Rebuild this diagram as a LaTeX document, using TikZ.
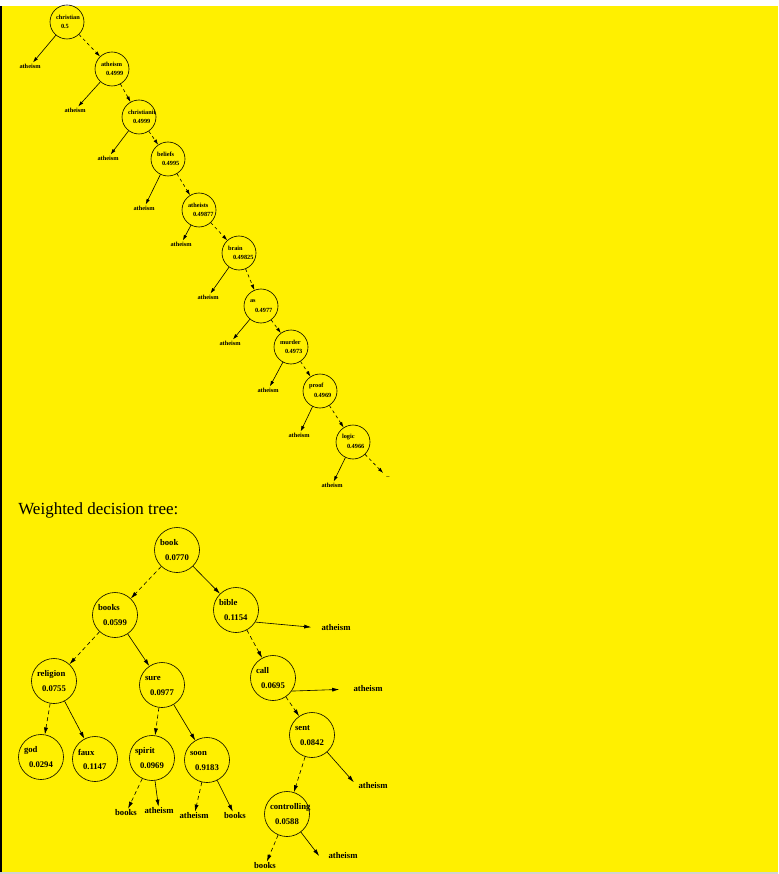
\documentclass[tikz,border=0pt]{standalone}
\usepackage{fontspec}
\setmainfont{Liberation Serif}
\usetikzlibrary{arrows.meta}
\definecolor{bgyellow}{RGB}{255,240,0}

\begin{document}
\begin{tikzpicture}[x=1pt, y=-1pt, line width=0.6pt,
  >={Latex[length=7pt,width=4pt]},
  dashedge/.style={dash pattern=on 4pt off 3pt},
  tword/.style={xshift=-11pt, yshift=5pt, inner sep=0pt, font=\fontsize{6.3}{7}\selectfont\bfseries},
  tval/.style={xshift=-6pt, yshift=-4pt, inner sep=0pt, font=\fontsize{6.3}{7}\selectfont\bfseries},
  tnode/.style 2 args={circle, draw, minimum size=34pt, inner sep=0pt,
    label={[tword]center:\makebox[0pt][l]{#1}}, label={[tval]center:\makebox[0pt][l]{#2}}},
  tleaf/.style={inner sep=1pt, font=\fontsize{6.3}{7}\selectfont\bfseries},
  wword/.style={xshift=-17pt, yshift=7pt, inner sep=0pt, font=\fontsize{8.7}{10}\selectfont\bfseries},
  wval/.style={xshift=-12pt, yshift=-8pt, inner sep=0pt, font=\fontsize{8.7}{10}\selectfont\bfseries},
  wnode/.style 2 args={circle, draw, minimum size=45pt, inner sep=0pt,
    label={[wword]center:\makebox[0pt][l]{#1}}, label={[wval]center:\makebox[0pt][l]{#2}}},
  wleaf/.style={inner sep=1pt, font=\fontsize{8.7}{10}\selectfont\bfseries},
  topedge/.style={>={Latex[length=5.5pt,width=3.5pt]}},
  topdash/.style={topedge, dash pattern=on 3pt off 3pt}
]
% page
\useasboundingbox (0,0) rectangle (778,874);
\fill[white] (0,0) rectangle (778,874);
\fill[bgyellow] (0,6) rectangle (778,872);
\fill[black] (0,6) rectangle (1.5,872);
\fill[gray!35] (0,872) rectangle (778,874);

% plain decision tree
\node (c1) [tnode={christian}{0.5}] at (67,22) {};
\node (l1) [tleaf] at (30,66) {atheism};
\node (c2) [tnode={atheism}{0.4999}] at (112,69) {};
\node (l2) [tleaf] at (75,110) {atheism};
\node (c3) [tnode={christianit}{0.4999}] at (139,117) {};
\node (l3) [tleaf] at (108,158) {atheism};
\node (c4) [tnode={beliefs}{0.4995}] at (168,159) {};
\node (l4) [tleaf] at (144,208) {atheism};
\node (c5) [tnode={atheists}{0.49877}] at (199,210) {};
\node (l5) [tleaf] at (181,244) {atheism};
\node (c6) [tnode={brain}{0.49825}] at (239,253) {};
\node (l6) [tleaf] at (208,297) {atheism};
\node (c7) [tnode={as}{0.4977}] at (261,306) {};
\node (l7) [tleaf] at (230,343) {atheism};
\node (c8) [tnode={murder}{0.4973}] at (291,347) {};
\node (l8) [tleaf] at (268,390) {atheism};
\node (c9) [tnode={proof}{0.4969}] at (320,391) {};
\node (l9) [tleaf] at (299,435) {atheism};
\node (c10) [tnode={logic}{0.4966}] at (353,442) {};
\node (l10) [tleaf] at (332,485) {atheism};
\node (more) [tleaf] at (388,478) {--};

\foreach \i in {1,...,10}
  \draw [->, topedge] (c\i) -- (l\i);
\foreach \i/\j in {1/2,2/3,3/4,4/5,5/6,6/7,7/8,8/9,9/10}
  \draw [->, topdash] (c\i) -- (c\j);
\draw [->, topdash, shorten >=4pt] (c10) -- (more);

% weighted decision tree
\node (title) [anchor=base west, inner sep=0pt, font=\fontsize{17}{20}\selectfont] at (18,514) {Weighted decision tree:};

\node (book) [wnode={book}{0.0770}] at (177,550) {};
\node (books) [wnode={books}{0.0599}] at (115,615) {};
\node (bible) [wnode={bible}{0.1154}] at (236,610) {};
\node (bath) [wleaf] at (336,628) {atheism};
\node (religion) [wnode={religion}{0.0755}] at (54,681) {};
\node (sure) [wnode={sure}{0.0977}] at (162,685) {};
\node (call) [wnode={call}{0.0695}] at (273,678) {};
\node (cath) [wleaf] at (368,689) {atheism};
\node (sent) [wnode={sent}{0.0842}] at (312,735) {};
\node (sath) [wleaf] at (373,786) {atheism};
\node (god) [wnode={god}{0.0294}] at (41,757) {};
\node (faux) [wnode={faux}{0.1147}] at (95,759) {};
\node (spirit) [wnode={spirit}{0.0969}] at (152,758) {};
\node (soon) [wnode={soon}{0.9183}] at (207,760) {};
\node (ctrl) [wnode={controlling}{0.0588}] at (287,814) {};
\node (spbooks) [wleaf] at (126,813) {books};
\node (spath) [wleaf] at (159,811) {atheism};
\node (soath) [wleaf] at (194,816) {atheism};
\node (sobooks) [wleaf] at (235,816) {books};
\node (ctbooks) [wleaf] at (265,866) {books};
\node (ctath) [wleaf] at (343,856) {atheism};

\draw [->, dashedge] (book) -- (books);
\draw [->] (book) -- (bible);
\draw [->, shorten >=9pt] (bible.-32) -- (bath.west);
\draw [->, dashedge] (bible) -- (call);
\draw [->, dashedge] (books) -- (religion);
\draw [->] (books) -- (sure);
\draw [->, dashedge] (religion) -- (god);
\draw [->] (religion) -- (faux);
\draw [->, dashedge] (sure) -- (spirit);
\draw [->] (sure) -- (soon);
\draw [->, shorten >=13pt] (call.-35) -- (cath.west);
\draw [->, dashedge] (call) -- (sent);
\draw [->, dashedge] (sent) -- (ctrl);
\draw [->, shorten >=5pt] (sent) -- (sath.west);
\draw [->, dashedge] (spirit) -- (spbooks);
\draw [->] (spirit) -- (spath);
\draw [->, dashedge] (soon) -- (soath);
\draw [->] (soon) -- (sobooks);
\draw [->, dashedge] (ctrl) -- (ctbooks);
\draw [->] (ctrl) -- ([xshift=-8pt]ctath.west);
\end{tikzpicture}
\end{document}
